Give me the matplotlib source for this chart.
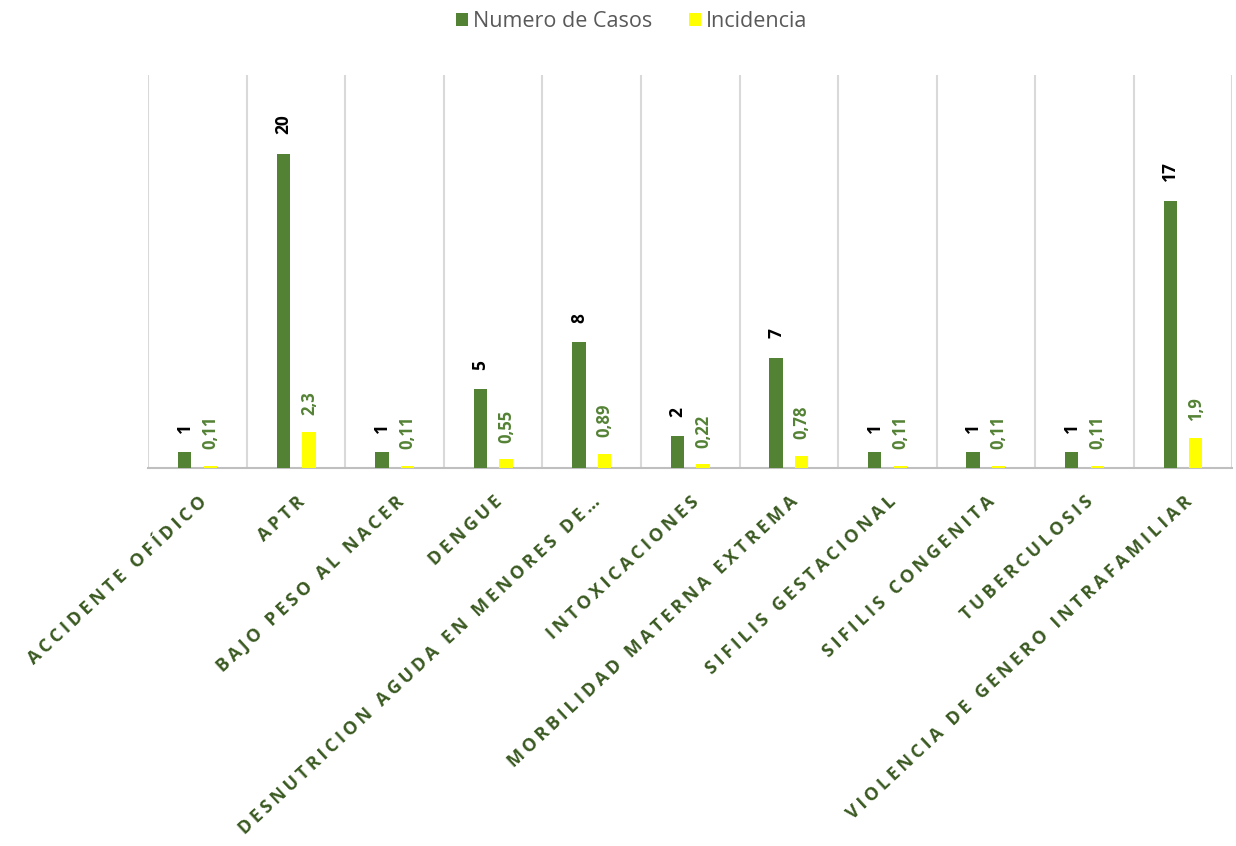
import matplotlib
matplotlib.use("Agg")
import matplotlib.pyplot as plt
import matplotlib.transforms as mtransforms
import numpy as np

categorias = ["ACCIDENTE OFÍDICO", "APTR", "BAJO PESO AL NACER", "DENGUE",
              "DESNUTRICION AGUDA EN MENORES DE…", "INTOXICACIONES",
              "MORBILIDAD MATERNA EXTREMA", "SIFILIS GESTACIONAL",
              "SIFILIS CONGENITA", "TUBERCULOSIS",
              "VIOLENCIA DE GENERO INTRAFAMILIAR"]
casos = [1, 20, 1, 5, 8, 2, 7, 1, 1, 1, 17]
incidencia = [0.11, 2.3, 0.11, 0.55, 0.89, 0.22, 0.78, 0.11, 0.11, 0.11, 1.9]
incidencia_txt = ["0,11", "2,3", "0,11", "0,55", "0,89", "0,22", "0,78",
                  "0,11", "0,11", "0,11", "1,9"]

verde = "#548235"
amarillo = "#FFFF00"
verde_osc = "#3b5a22"

plt.rcParams['font.family'] = ['Open Sans', 'DejaVu Sans']


def espaciar(txt):
    # imita el espaciado de letras de Excel
    return "\u2009 \u2009".join("\u2009".join(p) for p in txt.split())


fig = plt.figure(figsize=(12.36, 8.46), dpi=100)
ax = fig.add_axes([0.12, 0.447, 0.877, 0.464])

x = np.arange(len(categorias))
w = 0.135
b1 = ax.bar(x - 0.13, casos, w, color=verde, label="Numero de Casos", zorder=3)
b2 = ax.bar(x + 0.13, incidencia, w, color=amarillo, label="Incidencia", zorder=3)

for r, v in zip(b1, casos):
    ax.annotate(str(v), (r.get_x() + r.get_width() / 2, r.get_height()),
                xytext=(0, 14), textcoords="offset points", rotation=90,
                ha="center", va="bottom", fontsize=12.5, fontweight="bold",
                color="black")
for r, t in zip(b2, incidencia_txt):
    ax.annotate(t, (r.get_x() + r.get_width() / 2, r.get_height()),
                xytext=(0, 12), textcoords="offset points", rotation=90,
                ha="center", va="bottom", fontsize=12, fontweight="bold",
                color=verde)

ax.set_xlim(-0.5, len(categorias) - 0.5)
ax.set_ylim(0, 25)
ax.set_yticks([])
# lineas verticales entre categorias
for b in np.arange(-0.5, len(categorias), 1.0):
    ax.axvline(b, color="#d9d9d9", lw=1.5, zorder=1)
for s in ["top", "right", "left"]:
    ax.spines[s].set_visible(False)
ax.spines["bottom"].set_color("#bfbfbf")
ax.spines["bottom"].set_linewidth(1.5)

ax.set_xticks([])
trans = mtransforms.blended_transform_factory(ax.transData, ax.transAxes)
for xi, c in zip(x, categorias):
    ax.text(xi, -0.063, espaciar(c), transform=trans,
            rotation=43, rotation_mode="anchor", ha="right", va="top",
            fontsize=13, fontweight="bold", color=verde_osc)

fig.legend(loc="upper center", bbox_to_anchor=(0.511, 1.01), ncol=2,
           frameon=False, fontsize=15.5, labelcolor="#595959",
           handlelength=0.55, handleheight=0.55, handletextpad=0.25,
           columnspacing=1.7)

fig.savefig("out.png", dpi=100)
